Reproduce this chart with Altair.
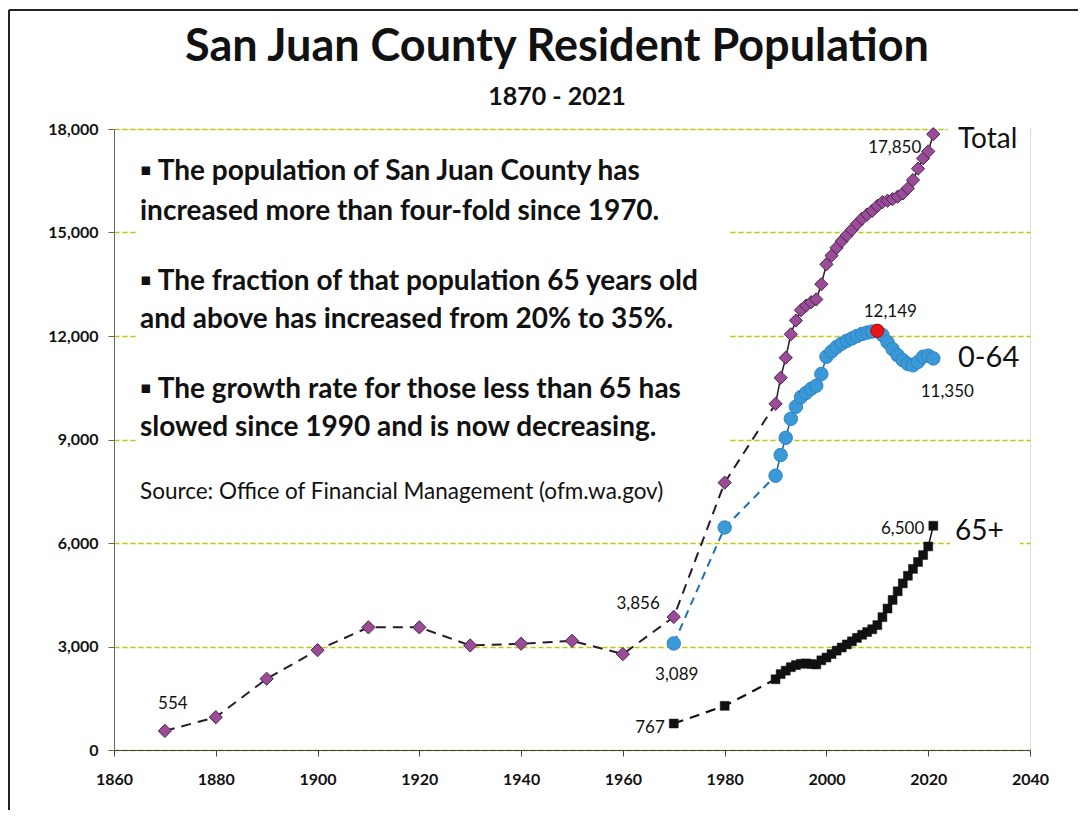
import altair as alt
import pandas as pd

FONT = "Lato"

# ---------------- data ----------------
hist_years = [1870, 1880, 1890, 1900, 1910, 1920, 1930, 1940, 1950, 1960, 1970, 1980]
hist_total = [554, 950, 2065, 2895, 3555, 3555, 3030, 3080, 3165, 2780, 3856, 7750]

recent_years = [1990, 1991, 1992, 1993, 1994, 1995, 1996, 1997, 1998, 1999,
                2000, 2001, 2002, 2003, 2004, 2005, 2006, 2007, 2008, 2009,
                2010, 2011, 2012, 2013, 2014, 2015, 2016, 2017, 2018, 2019,
                2020, 2021]
recent_total = [10035, 10790, 11370, 12050, 12450, 12750, 12880, 12980, 13060, 13500,
                14077, 14330, 14560, 14750, 14920, 15080, 15250, 15400, 15520, 15630,
                15769, 15880, 15920, 15970, 16040, 16130, 16280, 16520, 16850, 17150,
                17350, 17850]

young_early_years = [1970, 1980]
young_early = [3089, 6450]
recent_young = [7950, 8550, 9050, 9600, 9950, 10230, 10350, 10470, 10560, 10900,
                11400, 11550, 11680, 11780, 11860, 11930, 12000, 12060, 12100, 12130,
                12149, 12030, 11820, 11620, 11440, 11300, 11190, 11150, 11250, 11400,
                11430, 11350]

old_early_years = [1970, 1980]
old_early = [767, 1280]
recent_old = [2050, 2200, 2300, 2400, 2460, 2500, 2510, 2490, 2480, 2600,
              2680, 2780, 2880, 2970, 3060, 3150, 3250, 3340, 3420, 3500,
              3620, 3850, 4100, 4350, 4600, 4830, 5050, 5250, 5450, 5650,
              5900, 6500]

x_ticks = [1860, 1880, 1900, 1920, 1940, 1960, 1980, 2000, 2020, 2040]
y_ticks = [0, 3000, 6000, 9000, 12000, 15000, 18000]

title_text = "San Juan County Resident Population"
subtitle_text = "1870 - 2021"
note_lines = [
    "\u25aa The population of San Juan County has",
    "increased more than four-fold since 1970.",
    "\u25aa The fraction of that population 65 years old",
    "and above has increased from 20% to 35%.",
    "\u25aa The growth rate for those less than 65 has",
    "slowed since 1990 and is now decreasing.",
]
source_text = "Source: Office of Financial Management (ofm.wa.gov)"

# ---------------- tables ----------------
total_df = pd.DataFrame({"year": hist_years + recent_years,
                         "value": hist_total + recent_total})
young_df = pd.DataFrame({"year": young_early_years + recent_years,
                         "value": young_early + recent_young})
old_df = pd.DataFrame({"year": old_early_years + recent_years,
                       "value": old_early + recent_old})

W, H = 916, 621
GRID = "#bfc800"

X = alt.X("year:Q", scale=alt.Scale(domain=[1860, 2040], nice=False, zero=False),
          axis=alt.Axis(values=x_ticks, format="d", title=None, grid=False,
                        labelFont=FONT, labelFontWeight="bold", labelFontSize=16,
                        labelColor="#111", labelPadding=15, tickSize=6,
                        tickColor="#444", domainColor="#444", labelFlush=False))
Y = alt.Y("value:Q", scale=alt.Scale(domain=[0, 18000], nice=False),
          axis=alt.Axis(values=y_ticks, format=",d", title=None, grid=True,
                        gridColor=GRID, gridDash=[5, 3], gridWidth=1.4,
                        labelFont=FONT, labelFontWeight="bold", labelFontSize=16,
                        labelColor="#111", labelPadding=10, tickSize=6,
                        tickColor="#666", domainColor="#666"))

one = alt.Data(values=[{"k": 1}])


def box(x1, x2, y1, y2):
    return alt.Chart(one).mark_rect(fill="white").encode(
        x=alt.value(x1), x2=alt.value(x2), y=alt.value(y1), y2=alt.value(y2))


def free_text(txt, x, y, size, weight="normal", align="left"):
    return alt.Chart(one).mark_text(
        text=txt, align=align, baseline="middle", font=FONT, fontSize=size,
        fontWeight=weight, color="#111").encode(x=alt.value(x), y=alt.value(y))


def point_label(df, year, dx, dy, align, size=17):
    v = int(df.loc[df.year == year, "value"].iloc[0])
    d = alt.Data(values=[{"year": year, "value": v, "t": f"{v:,}"}])
    return alt.Chart(d).mark_text(
        align=align, baseline="middle", dx=dx, dy=dy, font=FONT,
        fontSize=size, color="#111").encode(x=X, y=Y, text="t:N")


base_grid = alt.Chart(total_df).mark_point(opacity=0).encode(x=X, y=Y)

# white text-box backgrounds (hide gridlines like the original shapes)
bg_note = box(24, 614, 16, 388)
bg_total = box(834, 916, -6, 26)
bg_young = box(840, 912, 212, 246)
bg_old = box(836, 906, 388, 418)

# lines: dashed before 1990, solid after
total_dash = alt.Chart(total_df[total_df.year <= 1990]).mark_line(
    color="#2a1a2a", strokeDash=[10, 7], strokeWidth=2).encode(x=X, y=Y)
total_solid = alt.Chart(total_df[total_df.year >= 1990]).mark_line(
    color="#2a1a2a", strokeWidth=1.5).encode(x=X, y=Y)
young_dash = alt.Chart(young_df[young_df.year <= 1990]).mark_line(
    color="#1f6fb5", strokeDash=[8, 6], strokeWidth=2).encode(x=X, y=Y)
young_solid = alt.Chart(young_df[young_df.year >= 1990]).mark_line(
    color="#1f5f9a", strokeWidth=1.5).encode(x=X, y=Y)
old_dash = alt.Chart(old_df[old_df.year <= 1990]).mark_line(
    color="#111", strokeDash=[10, 7], strokeWidth=2.2).encode(x=X, y=Y)
old_solid = alt.Chart(old_df[old_df.year >= 1990]).mark_line(
    color="#111", strokeWidth=1.5).encode(x=X, y=Y)

total_pts = alt.Chart(total_df).mark_point(
    shape="diamond", filled=True, size=175, fill="#9a4c98", stroke="#4a2448",
    strokeWidth=1, opacity=1).encode(x=X, y=Y)
young_pts = alt.Chart(young_df).mark_point(
    shape="circle", filled=True, size=180, fill="#3a99d6", stroke="#2b86c2",
    strokeWidth=1, opacity=1).encode(x=X, y=Y)
young_peak = alt.Chart(young_df[young_df.year == 2010]).mark_point(
    shape="circle", filled=True, size=170, fill="#e8141c", stroke="#c00",
    strokeWidth=1, opacity=1).encode(x=X, y=Y)
old_pts = alt.Chart(old_df).mark_point(
    shape="square", filled=True, size=80, fill="#111", stroke="#111",
    strokeWidth=0.5, opacity=1).encode(x=X, y=Y)

labels = [
    point_label(total_df, 1870, 8, -27, "center"),
    point_label(total_df, 1970, -14, -13, "right"),
    point_label(young_df, 1970, 3, 32, "center"),
    point_label(old_df, 1970, -9, 4, "right"),
    point_label(total_df, 2021, -12, 14, "right"),
    point_label(young_df, 2010, 13, -19, "center"),
    point_label(young_df, 2021, 14, 34, "center"),
    point_label(old_df, 2021, -9, 3, "right"),
]

series_names = [
    free_text("Total", 844, 11, 28),
    free_text("0-64", 844, 229, 29),
    free_text("65+", 841, 403, 28),
]

heading = [
    free_text(title_text, 443, -82, 45, "bold", "center"),
    free_text(subtitle_text, 443, -32, 25, "bold", "center"),
]

note_y = [43, 83, 153, 191, 261, 299]
notes = [free_text(t, 26, y, 28, "bold") for t, y in zip(note_lines, note_y)]
notes.append(free_text(source_text, 26, 363, 22.5))

frame = [
    alt.Chart(one).mark_rule(color="#222", strokeWidth=2).encode(
        x=alt.value(-105), y=alt.value(-119), y2=alt.value(682)),
    alt.Chart(one).mark_rule(color="#222", strokeWidth=2).encode(
        x=alt.value(-105), x2=alt.value(964), y=alt.value(-119)),
]

chart = alt.layer(
    base_grid, bg_note, bg_total, bg_young, bg_old,
    total_dash, young_dash, old_dash, total_solid, young_solid, old_solid,
    total_pts, young_pts, young_peak, old_pts,
    *labels, *series_names, *heading, *notes, *frame
).properties(
    width=W, height=H,
    autosize=alt.AutoSizeParams(type="none"),
    padding={"left": 106, "top": 121, "right": 48, "bottom": 60},
).configure_view(stroke=None).configure(background="white")

chart.save("out.html", embed_options={"renderer": "svg", "actions": False})
